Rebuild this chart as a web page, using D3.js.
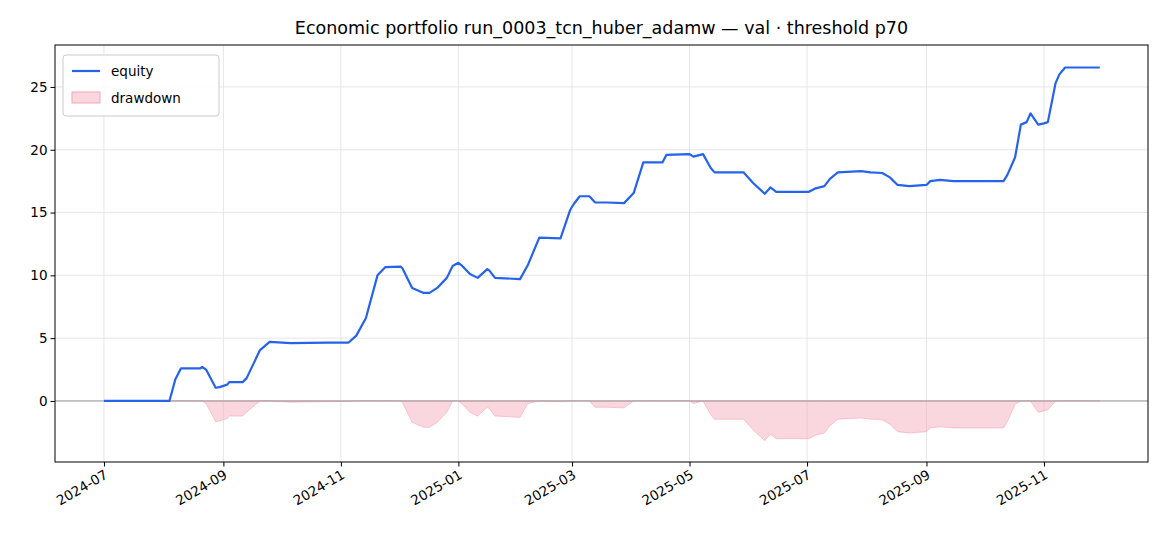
<!DOCTYPE html>
<html><head><meta charset="utf-8">
<script src="https://cdn.jsdelivr.net/npm/d3@7"></script>
<style>body{margin:0;background:#fff;font-family:"DejaVu Sans",sans-serif}</style>
</head><body><svg id="c" width="1170" height="546"></svg>
<script>
const dates = ["2024-07-01","2024-08-04","2024-08-07","2024-08-10","2024-08-20","2024-08-21","2024-08-23","2024-08-28","2024-08-30","2024-09-03","2024-09-04","2024-09-11","2024-09-13","2024-09-20","2024-09-25","2024-10-06","2024-10-25","2024-11-05","2024-11-09","2024-11-14","2024-11-20","2024-11-24","2024-12-02","2024-12-03","2024-12-08","2024-12-14","2024-12-17","2024-12-21","2024-12-26","2024-12-29","2025-01-01","2025-01-03","2025-01-07","2025-01-11","2025-01-16","2025-01-17","2025-01-20","2025-02-02","2025-02-06","2025-02-12","2025-02-23","2025-02-28","2025-03-02","2025-03-05","2025-03-10","2025-03-13","2025-03-19","2025-03-28","2025-04-02","2025-04-07","2025-04-17","2025-04-19","2025-05-01","2025-05-03","2025-05-08","2025-05-12","2025-05-14","2025-05-29","2025-06-03","2025-06-09","2025-06-12","2025-06-15","2025-07-02","2025-07-05","2025-07-10","2025-07-13","2025-07-17","2025-07-29","2025-08-03","2025-08-09","2025-08-13","2025-08-17","2025-08-23","2025-09-01","2025-09-03","2025-09-08","2025-09-15","2025-10-11","2025-10-13","2025-10-17","2025-10-20","2025-10-23","2025-10-25","2025-10-29","2025-11-01","2025-11-03","2025-11-07","2025-11-09","2025-11-12","2025-11-30"];
const equity = [0,0,1.7,2.6,2.6,2.7,2.5,1.05,1.1,1.3,1.5,1.5,1.8,4.05,4.7,4.6,4.65,4.65,5.2,6.6,10.0,10.65,10.7,10.55,9.0,8.6,8.6,9.0,9.8,10.75,11.0,10.75,10.1,9.8,10.5,10.4,9.8,9.7,10.8,13.0,12.95,15.2,15.7,16.3,16.3,15.8,15.8,15.75,16.55,19.0,19.0,19.6,19.65,19.45,19.65,18.55,18.2,18.2,17.35,16.5,17.0,16.65,16.65,16.9,17.1,17.7,18.2,18.3,18.2,18.15,17.8,17.2,17.1,17.2,17.5,17.6,17.5,17.5,18.0,19.4,22.0,22.2,22.9,22.0,22.1,22.2,25.3,26.0,26.55,26.55];
const yTicks = [0,5,10,15,20,25];
const xTickLabels = ["2024-07","2024-09","2024-11","2025-01","2025-03","2025-05","2025-07","2025-09","2025-11"];

const parse = d3.timeParse("%Y-%m-%d"), pm = d3.timeParse("%Y-%m");
let peak = -Infinity;
const data = dates.map((d,i)=>{peak=Math.max(peak,equity[i]);return {t:parse(d),v:equity[i],dd:equity[i]-peak};});

const L=55,R=1148,T=45,B=462;
const x = d3.scaleTime().domain([new Date(2024,5,5,14),new Date(2025,11,25)]).range([L,R]);
const y = d3.scaleLinear().domain([-4.86,28.34]).range([B,T]);
const svg = d3.select("#c");
const g = svg.append("g");
g.selectAll(".gx").data(xTickLabels).enter().append("line")
 .attr("x1",d=>x(pm(d))).attr("x2",d=>x(pm(d))).attr("y1",T).attr("y2",B).attr("stroke","#e3e3e3").attr("stroke-width",0.9);
g.selectAll(".gy").data(yTicks).enter().append("line")
 .attr("x1",L).attr("x2",R).attr("y1",d=>y(d)).attr("y2",d=>y(d)).attr("stroke","#e3e3e3").attr("stroke-width",0.9);
g.append("path").datum(data).attr("fill","#f4a6b8").attr("fill-opacity",0.45).attr("stroke","#f4a6b8").attr("stroke-opacity",0.6)
 .attr("d",d3.area().x(d=>x(d.t)).y0(y(0)).y1(d=>y(d.dd)));
g.append("line").attr("x1",L).attr("x2",R).attr("y1",y(0)).attr("y2",y(0)).attr("stroke","#999").attr("stroke-width",1);
g.append("path").datum(data).attr("fill","none").attr("stroke","#2563eb").attr("stroke-width",2.2).attr("stroke-linejoin","round")
 .attr("d",d3.line().x(d=>x(d.t)).y(d=>y(d.v)));
g.append("rect").attr("x",L).attr("y",T).attr("width",R-L).attr("height",B-T).attr("fill","none").attr("stroke","#000").attr("stroke-width",1);
const xa = svg.append("g").attr("transform",`translate(0,${B})`)
 .call(d3.axisBottom(x).tickValues(xTickLabels.map(pm)).tickFormat(d3.timeFormat("%Y-%m")).tickSize(4.5).tickSizeOuter(0));
xa.select(".domain").remove();
xa.selectAll("text").attr("font-size",13.5).attr("font-family","DejaVu Sans").attr("fill","#000")
 .attr("text-anchor","end").attr("transform","rotate(-30)").attr("dx","-0.3em").attr("dy","0.6em");
const ya = svg.append("g").attr("transform",`translate(${L},0)`)
 .call(d3.axisLeft(y).tickValues(yTicks).tickSize(4.5).tickSizeOuter(0));
ya.select(".domain").remove();
ya.selectAll("text").attr("font-size",13.5).attr("font-family","DejaVu Sans").attr("fill","#000");
svg.append("text").attr("x",(L+R)/2).attr("y",34).attr("text-anchor","middle").attr("font-size",17.5)
 .text("Economic portfolio run_0003_tcn_huber_adamw — val · threshold p70");
const lg = svg.append("g");
lg.append("rect").attr("x",63).attr("y",55).attr("width",156).attr("height",61).attr("rx",3).attr("fill","#fff").attr("fill-opacity",0.85).attr("stroke","#ccc");
lg.append("line").attr("x1",72).attr("x2",100).attr("y1",71).attr("y2",71).attr("stroke","#2563eb").attr("stroke-width",2.2);
lg.append("rect").attr("x",72).attr("y",92).attr("width",28).attr("height",11).attr("fill","#f4a6b8").attr("fill-opacity",0.45).attr("stroke","#f4a6b8");
lg.append("text").attr("x",111).attr("y",76).attr("font-size",13.5).text("equity");
lg.append("text").attr("x",111).attr("y",103).attr("font-size",13.5).text("drawdown");
</script></body></html>
